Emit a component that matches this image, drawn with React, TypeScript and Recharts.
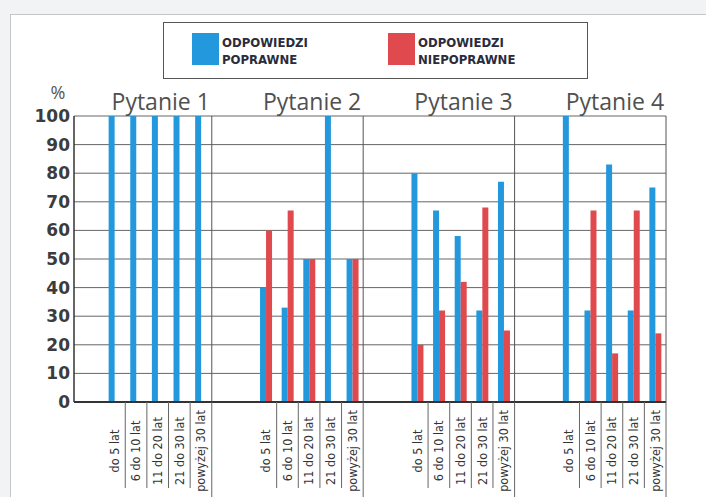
import React from 'react';
import { BarChart, Bar, XAxis, YAxis, CartesianGrid, ReferenceLine, Legend, Label } from 'recharts';

const QUESTIONS = ['Pytanie 1', 'Pytanie 2', 'Pytanie 3', 'Pytanie 4'];
const AGE_GROUPS = ['do 5 lat', '6 do 10 lat', '11 do 20 lat', '21 do 30 lat', 'powyżej 30 lat'];

const correctQ1 = [100, 100, 100, 100, 100];
const incorrectQ1 = [0, 0, 0, 0, 0];
const correctQ2 = [40, 33, 50, 100, 50];
const incorrectQ2 = [60, 67, 50, 0, 50];
const correctQ3 = [80, 67, 58, 32, 77];
const incorrectQ3 = [20, 32, 42, 68, 25];
const correctQ4 = [100, 32, 83, 32, 75];
const incorrectQ4 = [0, 67, 17, 67, 24];

const CORRECT_SERIES = [correctQ1, correctQ2, correctQ3, correctQ4];
const INCORRECT_SERIES = [incorrectQ1, incorrectQ2, incorrectQ3, incorrectQ4];

const Y_TICKS = [0, 10, 20, 30, 40, 50, 60, 70, 80, 90, 100];

const SERIES_CORRECT_NAME = 'ODPOWIEDZI POPRAWNE';
const SERIES_INCORRECT_NAME = 'ODPOWIEDZI NIEPOPRAWNE';
const LEGEND_ORDER = [SERIES_CORRECT_NAME, SERIES_INCORRECT_NAME];

const BLUE = '#2398dc';
const RED = '#e04a4e';

type Row = {
  key: string;
  label: string;
  title: string;
  last: boolean;
  correct: number | null;
  incorrect: number | null;
};

const rows: Row[] = [];
QUESTIONS.forEach((q, s) => {
  const gaps = s === 0 ? 1 : 2;
  for (let g = 0; g < gaps; g++) {
    rows.push({ key: `q${s + 1}-gap${g}`, label: '', title: '', last: false, correct: null, incorrect: null });
  }
  AGE_GROUPS.forEach((age, i) => {
    rows.push({
      key: `q${s + 1}-${i}`,
      label: age,
      title: i === 2 ? q : '',
      last: i === AGE_GROUPS.length - 1,
      correct: CORRECT_SERIES[s][i],
      incorrect: INCORRECT_SERIES[s][i],
    });
  });
});

const rowByKey: Record<string, Row> = {};
rows.forEach((r) => {
  rowByKey[r.key] = r;
});

const sectionEnds = rows.filter((r) => r.last).map((r) => r.key);

const CONDENSED = "'DejaVu Sans Condensed', 'DejaVu Sans', sans-serif";

const BottomTick = (props: any) => {
  const { x, y, payload } = props;
  const row = rowByKey[payload.value];
  if (!row || !row.label) return null;
  const half = payload.offset != null ? payload.offset : 10.8;
  const lx = x + half;
  const end = row.last ? 497 : y + 86;
  return (
    <g>
      <text
        transform={`translate(${x},${y + 49}) rotate(-90)`}
        textAnchor="middle"
        dy="0.35em"
        fontFamily={CONDENSED}
        fontStretch="condensed"
        fontSize={12.5}
        fill="#333"
      >
        {row.label}
      </text>
      <line x1={lx} x2={lx} y1={y} y2={end} stroke="#666" strokeWidth={1} />
    </g>
  );
};

const TitleTick = (props: any) => {
  const { x, y, payload } = props;
  const row = rowByKey[payload.value];
  if (!row || !row.title) return null;
  return (
    <text x={x + 3} y={y - 6} textAnchor="middle" fontFamily="'Open Sans', sans-serif" fontSize={23} fill="#505050">
      {row.title}
    </text>
  );
};

const renderLegend = (props: any) => {
  const payload = [...(props.payload || [])].sort(
    (a: any, b: any) => LEGEND_ORDER.indexOf(String(a.value)) - LEGEND_ORDER.indexOf(String(b.value))
  );
  return (
    <div
      style={{
        width: 425,
        height: 57,
        border: '1px solid #555',
        boxSizing: 'border-box',
        position: 'relative',
        background: '#fff',
      }}
    >
      {payload.map((p: any, i: number) => {
        const name = String(p.value);
        const sp = name.indexOf(' ');
        const l1 = name.slice(0, sp);
        const l2 = name.slice(sp + 1);
        return (
          <div key={i} style={{ position: 'absolute', left: 28 + i * 196, top: 10 }}>
            <div style={{ position: 'absolute', left: 0, top: 0, width: 27, height: 32, background: p.color }} />
            <div
              style={{
                position: 'absolute',
                left: 30,
                top: 1,
                fontFamily: CONDENSED,
                fontStretch: 'condensed',
                fontWeight: 'bold',
                fontSize: 13,
                lineHeight: '17px',
                color: '#2b2b3b',
                whiteSpace: 'nowrap',
              }}
            >
              <div>{l1}</div>
              <div>{l2}</div>
            </div>
          </div>
        );
      })}
    </div>
  );
};

const PercentLabel = (props: any) => {
  const vb = props.viewBox || { x: 14, y: 116, width: 60 };
  return (
    <text x={vb.x + vb.width - 16} y={vb.y - 17} textAnchor="middle" fontFamily="'Open Sans', sans-serif" fontSize={18} fill="#555">
      %
    </text>
  );
};

export default function App() {
  return (
    <div style={{ position: 'absolute', left: 0, top: 0, width: 706, height: 497, background: '#f1f3f5', overflow: 'hidden' }}>
      <div
        style={{
          position: 'absolute',
          left: 10,
          top: 14,
          width: 720,
          height: 500,
          borderLeft: '1px solid #c4c6c8',
          borderTop: '1px solid #c4c6c8',
          background: '#fff',
        }}
      />
      <div style={{ position: 'absolute', left: 0, top: 0 }}>
        <BarChart
          width={706}
          height={497}
          data={rows}
          margin={{ top: 80, right: 40, bottom: 0, left: 14 }}
          barGap={0}
        >
          <CartesianGrid vertical={false} stroke="#666" strokeWidth={1} />
          <XAxis
            xAxisId="top"
            orientation="top"
            dataKey="key"
            height={36}
            axisLine={false}
            tickLine={false}
            tickSize={0}
            tickMargin={0}
            interval={0}
            padding={{ left: 8, right: 0 }}
            tick={<TitleTick />}
          />
          <XAxis
            dataKey="key"
            height={95}
            axisLine={{ stroke: '#333', strokeWidth: 2 }}
            tickLine={false}
            tickSize={0}
            tickMargin={0}
            interval={0}
            padding={{ left: 8, right: 0 }}
            tick={<BottomTick />}
          />
          <YAxis
            width={60}
            domain={[0, 100]}
            ticks={Y_TICKS}
            interval={0}
            axisLine={{ stroke: '#333', strokeWidth: 1.5 }}
            tickLine={false}
            tickSize={0}
            tickMargin={4}
            tick={{ fontFamily: "'DejaVu Sans', sans-serif", fontWeight: 'bold', fontSize: 17, fill: '#3c3c3c' }}
          >
            <Label content={<PercentLabel />} />
          </YAxis>
          {sectionEnds.map((k) => (
            <ReferenceLine key={k} x={k} position="end" stroke="#555" strokeWidth={1} />
          ))}
          <Legend
            layout="vertical"
            align="center"
            verticalAlign="middle"
            wrapperStyle={{ top: 22, left: 163, width: 425, height: 57 }}
            content={renderLegend}
          />
          <Bar dataKey="correct" name={SERIES_CORRECT_NAME} fill={BLUE} barSize={6} isAnimationActive={false} />
          <Bar dataKey="incorrect" name={SERIES_INCORRECT_NAME} fill={RED} barSize={6} isAnimationActive={false} />
        </BarChart>
      </div>
    </div>
  );
}
